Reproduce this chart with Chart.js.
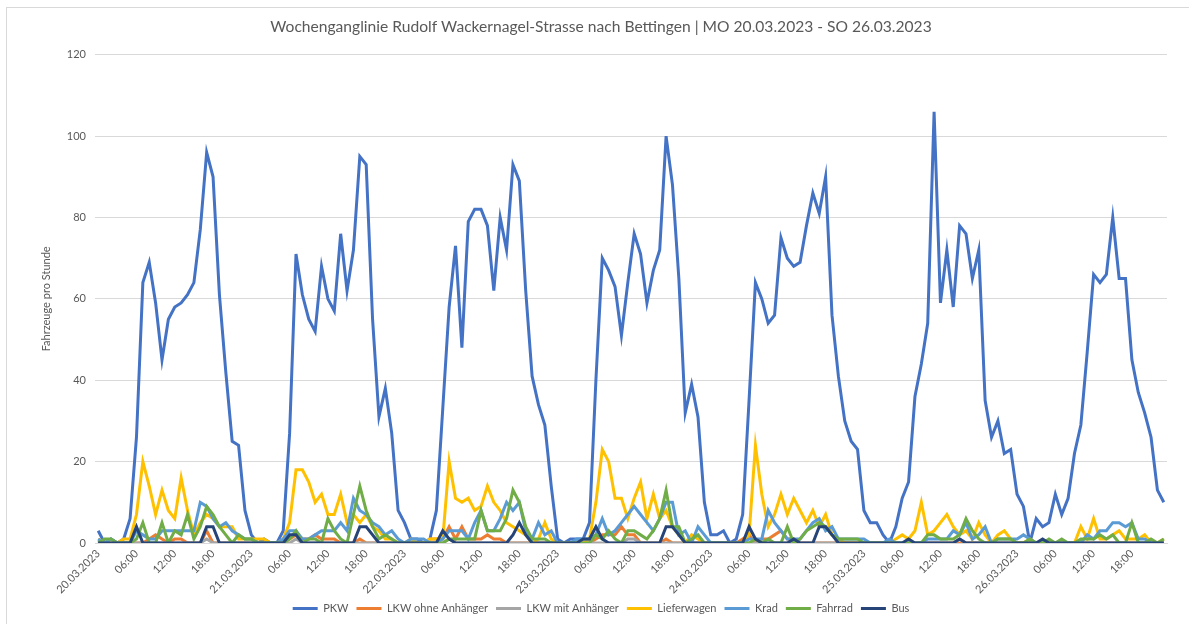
<!DOCTYPE html>
<html>
<head>
<meta charset="utf-8">
<title>Wochenganglinie</title>
<script src="https://cdn.jsdelivr.net/npm/chart.js@4/dist/chart.umd.min.js"></script>
<style>
  body { margin: 0; background: #fff; }
  #wrap { position: relative; width: 1189px; height: 624px; }
  #frame { position: absolute; left: 6px; top: 7px; right: -10px; bottom: -10px;
           border-left: 1px solid #D9D9D9; border-top: 1px solid #D9D9D9; pointer-events: none; }
</style>
</head>
<body>
<div id="wrap"><canvas id="wochenChart" width="1189" height="624"></canvas><div id="frame"></div></div>
<script>
// Tage (Mo-So) und beschriftete Stunden
const days = ["20.03.2023", "21.03.2023", "22.03.2023", "23.03.2023", "24.03.2023", "25.03.2023", "26.03.2023"];
const hourTicks = ["06:00", "12:00", "18:00"];

// Fahrzeuge pro Stunde, je Zeile ein Tag (00-23 Uhr)
const pkw = [
    3, 0, 1, 0, 1, 6, 26, 64, 69, 59, 45, 55, 58, 59, 61, 64, 77, 96, 90, 61, 42, 25, 24, 8,
    2, 0, 1, 0, 0, 3, 27, 71, 61, 55, 52, 68, 60, 57, 76, 62, 72, 95, 93, 55, 31, 38, 27, 8,
    5, 1, 1, 0, 1, 8, 33, 58, 73, 48, 79, 82, 82, 78, 62, 80, 72, 93, 89, 62, 41, 34, 29, 14,
    1, 0, 1, 1, 1, 5, 40, 70, 67, 63, 51, 64, 76, 71, 59, 67, 72, 100, 88, 65, 32, 39, 31, 10,
    2, 2, 3, 0, 1, 7, 35, 64, 60, 54, 56, 75, 70, 68, 69, 78, 86, 81, 90, 56, 41, 30, 25, 23,
    8, 5, 5, 2, 0, 4, 11, 15, 36, 44, 54, 106, 59, 72, 58, 78, 76, 65, 72, 35, 26, 30, 22, 23,
    12, 9, 0, 6, 4, 5, 12, 7, 11, 22, 29, 47, 66, 64, 66, 80, 65, 65, 45, 37, 32, 26, 13, 10
];
const lkwOhne = [
    0, 0, 0, 0, 0, 0, 0, 0, 1, 2, 1, 0, 1, 1, 0, 0, 0, 3, 0, 0, 0, 0, 0, 0,
    0, 0, 0, 0, 0, 0, 1, 2, 1, 1, 2, 1, 1, 1, 0, 0, 0, 1, 0, 0, 0, 0, 0, 0,
    0, 0, 0, 0, 1, 1, 1, 4, 1, 4, 1, 1, 1, 2, 1, 1, 0, 0, 0, 0, 0, 0, 0, 0,
    0, 0, 0, 0, 0, 0, 1, 2, 2, 2, 4, 2, 2, 0, 0, 0, 0, 1, 0, 0, 0, 0, 0, 0,
    0, 0, 0, 0, 0, 1, 2, 0, 1, 1, 2, 3, 1, 1, 0, 0, 0, 0, 0, 0, 0, 0, 0, 0,
    0, 0, 0, 0, 0, 0, 0, 0, 0, 0, 0, 0, 0, 0, 0, 0, 0, 0, 0, 0, 0, 0, 0, 0,
    0, 0, 0, 0, 0, 0, 0, 0, 0, 0, 0, 0, 0, 0, 0, 0, 0, 0, 0, 0, 0, 0, 0, 0
];
const lkwMit = [
    0, 0, 0, 0, 0, 0, 0, 0, 0, 0, 0, 0, 0, 0, 0, 0, 0, 1, 0, 0, 0, 0, 0, 0,
    0, 0, 0, 0, 0, 0, 0, 1, 0, 0, 0, 0, 0, 0, 0, 0, 0, 0, 0, 0, 0, 0, 0, 0,
    0, 0, 0, 0, 0, 0, 0, 1, 0, 0, 0, 0, 0, 0, 0, 0, 0, 0, 0, 0, 0, 0, 0, 0,
    0, 0, 0, 0, 0, 0, 0, 0, 0, 0, 0, 1, 1, 0, 0, 0, 0, 0, 0, 0, 0, 0, 0, 0,
    0, 0, 0, 0, 0, 0, 0, 0, 0, 0, 0, 0, 0, 0, 0, 0, 0, 0, 0, 0, 0, 0, 0, 0,
    0, 0, 0, 0, 0, 0, 0, 0, 0, 0, 0, 0, 0, 0, 0, 1, 0, 0, 0, 0, 0, 0, 0, 0,
    0, 0, 0, 0, 0, 0, 0, 0, 0, 0, 0, 0, 0, 0, 0, 0, 0, 0, 0, 0, 0, 0, 0, 0
];
const lieferwagen = [
    1, 0, 0, 0, 1, 1, 7, 20, 14, 7, 13, 8, 6, 16, 8, 2, 5, 7, 6, 4, 4, 4, 1, 1,
    1, 1, 1, 0, 0, 1, 5, 18, 18, 15, 10, 12, 7, 7, 12, 5, 7, 5, 7, 4, 3, 1, 1, 0,
    0, 1, 0, 0, 1, 1, 1, 20, 11, 10, 11, 8, 9, 14, 10, 8, 5, 4, 3, 2, 0, 1, 5, 1,
    0, 0, 0, 0, 0, 1, 10, 23, 20, 11, 11, 6, 11, 15, 6, 12, 6, 8, 4, 2, 0, 2, 1, 0,
    0, 0, 0, 0, 0, 0, 2, 24, 12, 4, 7, 12, 7, 11, 8, 5, 8, 4, 7, 2, 1, 0, 0, 0,
    0, 0, 0, 0, 0, 1, 2, 1, 3, 10, 2, 3, 5, 7, 4, 2, 3, 1, 5, 2, 0, 2, 3, 1,
    0, 0, 1, 0, 0, 0, 0, 0, 0, 0, 4, 1, 6, 1, 1, 2, 3, 1, 1, 1, 2, 0, 0, 1
];
const krad = [
    1, 0, 1, 0, 0, 0, 3, 2, 1, 1, 3, 3, 3, 3, 3, 3, 10, 9, 6, 4, 5, 3, 2, 1,
    1, 0, 0, 0, 0, 1, 3, 3, 1, 1, 2, 3, 3, 3, 5, 3, 11, 8, 7, 5, 4, 2, 3, 1,
    0, 1, 1, 1, 0, 0, 1, 3, 3, 3, 1, 5, 8, 3, 3, 6, 10, 8, 10, 3, 1, 5, 2, 3,
    0, 0, 0, 1, 1, 1, 2, 6, 2, 3, 5, 7, 9, 7, 5, 3, 6, 10, 10, 2, 3, 0, 4, 2,
    0, 0, 0, 0, 0, 0, 1, 1, 1, 8, 5, 3, 1, 1, 1, 3, 5, 6, 3, 4, 1, 1, 1, 1,
    1, 0, 0, 0, 1, 0, 0, 0, 0, 0, 1, 1, 1, 1, 3, 2, 5, 1, 2, 4, 0, 1, 1, 1,
    1, 2, 1, 0, 0, 0, 0, 0, 0, 0, 0, 2, 1, 3, 3, 5, 5, 4, 5, 1, 1, 0, 0, 0
];
const fahrrad = [
    0, 1, 1, 0, 0, 0, 1, 5, 0, 0, 5, 0, 3, 2, 7, 1, 4, 9, 7, 4, 2, 0, 2, 1,
    1, 0, 0, 0, 0, 0, 1, 3, 0, 1, 1, 0, 6, 3, 1, 0, 7, 14, 8, 4, 1, 2, 1, 0,
    0, 0, 0, 0, 0, 0, 0, 1, 1, 1, 1, 1, 8, 3, 3, 3, 6, 13, 10, 4, 1, 1, 1, 0,
    0, 0, 0, 0, 0, 0, 2, 1, 3, 1, 0, 3, 3, 2, 1, 3, 6, 13, 4, 4, 0, 1, 2, 0,
    0, 0, 0, 0, 0, 0, 0, 1, 0, 1, 0, 0, 4, 0, 1, 3, 4, 5, 4, 2, 1, 1, 1, 1,
    0, 0, 0, 0, 0, 0, 0, 0, 0, 0, 2, 2, 1, 1, 1, 2, 6, 3, 1, 0, 0, 1, 1, 1,
    0, 0, 1, 0, 0, 1, 0, 1, 0, 0, 1, 1, 1, 2, 1, 2, 0, 0, 5, 0, 0, 1, 0, 1
];
const bus = [
    0, 0, 0, 0, 0, 0, 4, 0, 0, 0, 0, 0, 0, 0, 0, 0, 0, 4, 4, 0, 0, 0, 0, 0,
    0, 0, 0, 0, 0, 0, 2, 2, 0, 0, 0, 0, 0, 0, 0, 0, 0, 4, 4, 2, 0, 0, 0, 0,
    0, 0, 0, 0, 0, 0, 3, 1, 0, 0, 0, 0, 0, 0, 0, 0, 0, 2, 5, 2, 0, 0, 0, 0,
    0, 0, 0, 0, 1, 1, 4, 1, 0, 0, 0, 0, 0, 0, 0, 0, 0, 4, 4, 2, 0, 0, 0, 0,
    0, 0, 0, 0, 0, 0, 4, 1, 0, 0, 0, 0, 0, 1, 0, 0, 0, 4, 4, 2, 0, 0, 0, 0,
    0, 0, 0, 0, 0, 0, 0, 1, 0, 0, 0, 0, 0, 0, 0, 1, 0, 0, 0, 0, 0, 0, 0, 0,
    0, 0, 0, 0, 1, 0, 0, 0, 0, 0, 0, 0, 0, 0, 0, 0, 0, 0, 0, 0, 0, 0, 0, 0
];

const seriesNames = ["PKW", "LKW ohne Anhänger", "LKW mit Anhänger", "Lieferwagen", "Krad", "Fahrrad", "Bus"];
const seriesColors = ["#4472C4", "#ED7D31", "#A5A5A5", "#FFC000", "#5B9BD5", "#70AD47", "#264478"];
const seriesData = [pkw, lkwOhne, lkwMit, lieferwagen, krad, fahrrad, bus];

// Kategorien: eine pro Stunde, Datum um Mitternacht
const labels = [];
days.forEach(d => {
    for (let h = 0; h < 24; h++) {
        labels.push(h === 0 ? d : String(h).padStart(2, "0") + ":00");
    }
});

const textColor = "#595959";
const font = "Lato, 'Liberation Sans', sans-serif";

new Chart(document.getElementById("wochenChart"), {
    type: "line",
    data: {
        labels: labels,
        datasets: seriesNames.map((name, i) => ({
            label: name,
            data: seriesData[i],
            borderColor: seriesColors[i],
            backgroundColor: seriesColors[i],
            borderWidth: 3,
            pointRadius: 0,
            tension: 0,
            order: seriesNames.length - i  // Excel: letzte Reihe oben
        }))
    },
    options: {
        responsive: false,
        animation: false,
        layout: { padding: { left: 35, right: 22, top: 0, bottom: 0 } },
        plugins: {
            title: {
                display: true,
                text: "Wochenganglinie Rudolf Wackernagel-Strasse nach Bettingen | MO 20.03.2023 - SO 26.03.2023",
                color: textColor,
                font: { family: font, size: 15.6, weight: "normal" },
                padding: { top: 18, bottom: 18 }
            },
            legend: {
                position: "bottom",
                reverse: true,
                labels: {
                    color: textColor,
                    font: { family: font, size: 11 },
                    usePointStyle: true,
                    pointStyle: "line",
                    pointStyleWidth: 25,
                    padding: 8
                }
            },
            tooltip: { enabled: false }
        },
        scales: {
            x: {
                offset: true,
                grid: { display: false, drawTicks: false },
                border: { display: true, color: "#D9D9D9" },
                ticks: {
                    autoSkip: false,
                    maxRotation: 45,
                    minRotation: 45,
                    padding: 4,
                    color: textColor,
                    font: { family: font, size: 11 },
                    callback: function (value, index) {
                        const lab = labels[index];
                        return (index % 6 === 0 && (days.includes(lab) || hourTicks.includes(lab))) ? lab : null;
                    }
                },
                afterFit: function (scale) { scale.height = 52; }
            },
            y: {
                min: 0,
                max: 120,
                grid: { color: "#D9D9D9", drawTicks: false },
                border: { display: false },
                ticks: {
                    stepSize: 20,
                    padding: 9,
                    color: textColor,
                    font: { family: font, size: 11 }
                },
                title: {
                    display: true,
                    text: "Fahrzeuge pro Stunde",
                    color: textColor,
                    font: { family: font, size: 11 },
                    padding: { top: 5 }
                },
                afterFit: function (scale) { scale.width = 60; }
            }
        }
    }
});
</script>
</body>
</html>
